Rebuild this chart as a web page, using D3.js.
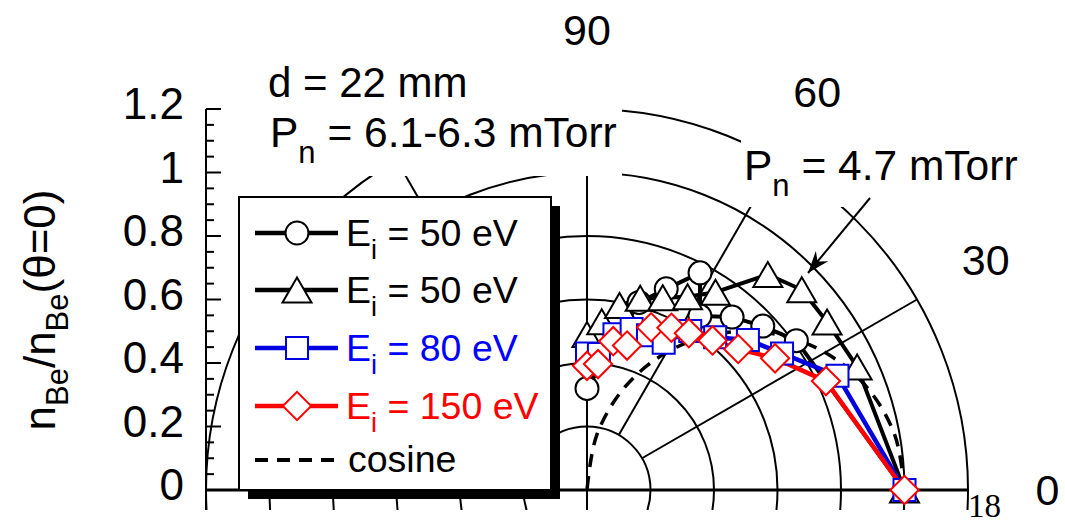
<!DOCTYPE html>
<html>
<head>
<meta charset="utf-8">
<script src="https://cdn.jsdelivr.net/npm/d3@7"></script>
<style>
  body { margin: 0; background: #fff; }
  svg { font-family: "Liberation Sans", Arial, sans-serif; }
</style>
</head>
<body>
<svg id="chart" width="1065" height="528"></svg>
<script>
// angle (deg) of each measurement and n_Be / n_Be(theta=0)
const anglesFull = [90, 85, 80, 74.5, 68.5, 62.5, 57, 50, 43, 35, 24.5, 0];
const anglesCircle = [90, 74.5, 68.5, 62.5, 57, 50, 43, 35.5, 0];
const ei50Pn63 = [0.32, 0.613, 0.681, 0.771, 0.653, 0.711, 0.757, 0.81, 1.0];   // circles
const ei50Pn47 = [0.49, 0.532, 0.59, 0.627, 0.651, 0.686, 0.743, 0.886, 0.925, 0.923, 0.935, 1.0]; // triangles
const ei80 = [0.43, 0.43, 0.498, 0.526, 0.524, 0.523, 0.597, 0.628, 0.693, 0.75, 0.867, 1.0];
const ei150 = [0.391, 0.398, 0.476, 0.472, 0.551, 0.576, 0.589, 0.615, 0.651, 0.723, 0.827, 1.0];
const cosAngles = [0, 10, 20, 30, 40, 50, 60, 70, 80, 90];
const cosValues = [1, 0.985, 0.94, 0.866, 0.766, 0.643, 0.5, 0.342, 0.174, 0];

const ringValues = [0.2, 0.4, 0.6, 0.8, 1.0, 1.2];
const spokeAngles = [30, 60, 120, 150];
const angleLabels = [90, 60, 30, 0];
const yTickLabels = [0, 0.2, 0.4, 0.6, 0.8, 1, 1.2];

const svg = d3.select("#chart");
const cx = 587, cy = 490, rMax = 381;
const r = d3.scaleLinear().domain([0, 1.2]).range([0, rMax]);
const y = d3.scaleLinear().domain([0, 1.2]).range([cy, cy - rMax]);
const rad = a => a * Math.PI / 180;
const px = (a, v) => cx + r(v) * Math.cos(rad(a));
const py = (a, v) => cy - r(v) * Math.sin(rad(a));

const defs = svg.append("defs");
defs.append("clipPath").attr("id", "clip")
  .append("rect").attr("x", 0).attr("y", 0).attr("width", 1065).attr("height", 510);
defs.append("marker")
  .attr("id", "arrow")
  .attr("markerUnits", "userSpaceOnUse")
  .attr("viewBox", "-22 -10 24 20")
  .attr("refX", 0).attr("refY", 0)
  .attr("markerWidth", 24).attr("markerHeight", 20)
  .attr("orient", "auto")
  .append("path")
  .attr("d", "M0,0L-22,-8L-15,0L-22,8Z")
  .attr("fill", "#000");

// grid
const grid = svg.append("g").attr("clip-path", "url(#clip)")
  .attr("fill", "none").attr("stroke", "#000");

grid.selectAll("circle.ring").data(ringValues).enter()
  .append("circle").attr("class", "ring")
  .attr("cx", cx).attr("cy", cy).attr("r", d => r(d))
  .attr("stroke-width", 2);

grid.selectAll("line.spoke").data(spokeAngles).enter()
  .append("line").attr("class", "spoke")
  .attr("x1", d => px(d, 0.2)).attr("y1", d => py(d, 0.2))
  .attr("x2", d => px(d, 1.2)).attr("y2", d => py(d, 1.2))
  .attr("stroke-width", 2);

grid.append("line") // 90 deg line
  .attr("x1", cx).attr("y1", 528).attr("x2", cx).attr("y2", y(1.2))
  .attr("stroke-width", 2);

grid.append("line") // 0 / 180 base line
  .attr("x1", px(180, 1.2)).attr("y1", cy).attr("x2", px(0, 1.2)).attr("y2", cy)
  .attr("stroke-width", 3);

// left value axis
const axisX = px(180, 1.2);
grid.append("line")
  .attr("x1", axisX).attr("y1", y(1.2)).attr("x2", axisX).attr("y2", 528)
  .attr("stroke-width", 2);
grid.selectAll("line.tick").data(y.ticks(24)).enter()
  .append("line").attr("class", "tick")
  .attr("x1", axisX).attr("x2", d => axisX + (Math.round(d * 100) % 20 === 0 ? 15 : 8))
  .attr("y1", d => y(d)).attr("y2", d => y(d))
  .attr("stroke-width", 2);

svg.append("g").attr("font-size", 44).attr("text-anchor", "end")
  .selectAll("text").data(yTickLabels).enter()
  .append("text")
  .attr("x", axisX - 22).attr("y", d => y(d) + 10)
  .text(d => d);

// axis title
const title = svg.append("text")
  .attr("transform", `translate(55,310) rotate(-90)`)
  .attr("text-anchor", "middle").attr("font-size", 44);
title.append("tspan").text("n");
title.append("tspan").attr("font-size", 31).attr("dy", 13).text("Be");
title.append("tspan").attr("dy", -13).text("/n");
title.append("tspan").attr("font-size", 31).attr("dy", 13).text("Be");
title.append("tspan").attr("dy", -13).text("(θ=0)");

// angle labels
svg.append("g").attr("font-size", 43).attr("text-anchor", "middle")
  .selectAll("text").data(angleLabels).enter()
  .append("text")
  .attr("x", d => px(d, 1.45)).attr("y", d => py(d, 1.45))
  .attr("dy", "0.36em")
  .text(d => d);

svg.append("text")
  .attr("x", px(0, 1.2)).attr("y", 517)
  .attr("font-family", "'Liberation Serif', 'Times New Roman', serif")
  .attr("font-size", 33)
  .text("18");

// annotation boxes
svg.append("rect").attr("x", 258).attr("y", 50).attr("width", 364).attr("height", 126).attr("fill", "#fff");
svg.append("rect").attr("x", 741).attr("y", 140).attr("width", 290).attr("height", 67).attr("fill", "#fff");

svg.append("text").attr("x", 268).attr("y", 97).attr("font-size", 42).text("d = 22 mm");
const pn1 = svg.append("text").attr("x", 270).attr("y", 147).attr("font-size", 42.5);
pn1.append("tspan").text("P");
pn1.append("tspan").attr("font-size", 31).attr("dy", 16).text("n");
pn1.append("tspan").attr("dy", -16).text(" = 6.1-6.3 mTorr");

const pn2 = svg.append("text").attr("x", 744).attr("y", 180).attr("font-size", 42.5);
pn2.append("tspan").text("P");
pn2.append("tspan").attr("font-size", 31).attr("dy", 16).text("n");
pn2.append("tspan").attr("dy", -16).text(" = 4.7 mTorr");

svg.append("line")
  .attr("x1", 870).attr("y1", 198).attr("x2", 808).attr("y2", 273)
  .attr("stroke", "#000").attr("stroke-width", 2)
  .attr("marker-end", "url(#arrow)");

// data
const toPoints = (angles, values) => angles.map((a, i) => ({ a: a, v: values[i] }));
const radial = d3.lineRadial().angle(d => rad(90 - d.a)).radius(d => r(d.v));
const radialSmooth = d3.lineRadial().angle(d => rad(90 - d.a)).radius(d => r(d.v))
  .curve(d3.curveCatmullRom);

const markerPath = {
  circle: d3.symbol(d3.symbolCircle, Math.PI * 11.5 * 11.5)(),
  square: d3.symbol(d3.symbolSquare, 22 * 22)(),
  diamond: d3.symbol(d3.symbolSquare, 20 * 20)(),
  triangle: "M0,-12.5L14.5,12.5L-14.5,12.5Z"
};

const series = [
  { pts: toPoints(anglesCircle, ei50Pn63), color: "#000", text: "#000", shape: "circle", lw: 4, label: "50" },
  { pts: toPoints(anglesFull, ei50Pn47), color: "#000", text: "#000", shape: "triangle", lw: 4, label: "50" },
  { pts: toPoints(anglesFull, ei80), color: "#0000e0", text: "#0000ff", shape: "square", lw: 4.5, label: "80" },
  { pts: toPoints(anglesFull, ei150), color: "#ff0000", text: "#ff0000", shape: "diamond", lw: 4.5, label: "150" }
];

const plot = svg.append("g").attr("transform", `translate(${cx},${cy})`);

plot.append("path")
  .attr("d", radialSmooth(toPoints(cosAngles, cosValues)))
  .attr("fill", "none").attr("stroke", "#000")
  .attr("stroke-width", 3.5).attr("stroke-dasharray", "13,9");

series.forEach(s => {
  plot.append("path")
    .attr("d", radial(s.pts))
    .attr("fill", "none").attr("stroke", s.color)
    .attr("stroke-width", s.lw).attr("stroke-linejoin", "round");
});
series.forEach(s => {
  plot.selectAll(null).data(s.pts).enter()
    .append("path")
    .attr("d", markerPath[s.shape])
    .attr("transform", d => `translate(${r(d.v) * Math.cos(rad(d.a))},${-r(d.v) * Math.sin(rad(d.a))})` +
      (s.shape === "diamond" ? " rotate(45)" : ""))
    .attr("fill", "#fff").attr("stroke", s.color).attr("stroke-width", 2);
});

// legend
const lg = svg.append("g").attr("transform", "translate(239,197)");
lg.append("rect").attr("x", 9).attr("y", 9).attr("width", 312).attr("height", 293).attr("fill", "#000");
lg.append("rect").attr("width", 312).attr("height", 293)
  .attr("fill", "#fff").attr("stroke", "#000").attr("stroke-width", 2);

const rowY = [36, 93, 151, 209];
series.forEach((s, i) => {
  const g = lg.append("g").attr("transform", `translate(0,${rowY[i]})`);
  g.append("line").attr("x1", 16).attr("x2", 99).attr("y1", 0).attr("y2", 0)
    .attr("stroke", s.color).attr("stroke-width", 4.5);
  g.append("path").attr("d", markerPath[s.shape])
    .attr("transform", "translate(58,0)" + (s.shape === "diamond" ? " rotate(45)" : ""))
    .attr("fill", "#fff").attr("stroke", s.color).attr("stroke-width", 2);
  const t = g.append("text").attr("x", 107).attr("y", 13).attr("font-size", 37.5).attr("fill", s.text);
  t.append("tspan").text("E");
  t.append("tspan").attr("font-size", 27).attr("dy", 13).text("i");
  t.append("tspan").attr("dy", -13).text(` = ${s.label} eV`);
});
const cosRow = lg.append("g").attr("transform", "translate(0,263)");
cosRow.append("line").attr("x1", 16).attr("x2", 99).attr("y1", 0).attr("y2", 0)
  .attr("stroke", "#000").attr("stroke-width", 4).attr("stroke-dasharray", "13,9");
cosRow.append("text").attr("x", 109).attr("y", 12).attr("font-size", 37.5).text("cosine");
</script>
</body>
</html>
